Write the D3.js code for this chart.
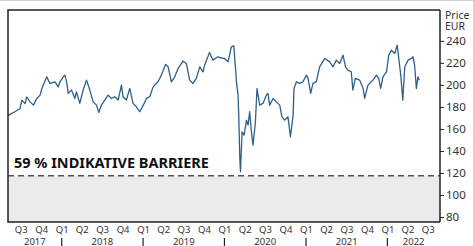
<!DOCTYPE html>
<html>
<head>
<meta charset="utf-8">
<script src="https://cdn.jsdelivr.net/npm/d3@7"></script>
<style>
  body { margin: 0; background: #fff; }
  svg text { font-family: "Noto Sans", sans-serif; fill: #333; }
</style>
</head>
<body>
<svg id="chart" width="473" height="246"></svg>
<script>
var dates = [
  "2017-05-05","2017-05-14","2017-06-05","2017-06-28","2017-07-06","2017-07-21","2017-07-28","2017-08-12",
  "2017-08-27","2017-09-11","2017-09-26","2017-10-04","2017-10-26","2017-11-09","2017-12-02","2017-12-17",
  "2017-12-24","2018-01-08","2018-01-15","2018-01-23","2018-01-30","2018-02-14","2018-03-01","2018-03-08",
  "2018-03-23","2018-04-07","2018-04-22","2018-05-07","2018-05-22","2018-06-06","2018-06-16","2018-06-28",
  "2018-07-13","2018-07-28","2018-08-12","2018-08-27","2018-09-11","2018-09-26","2018-10-03","2018-10-18",
  "2018-11-02","2018-11-17","2018-12-02","2018-12-17","2019-01-02","2019-01-16","2019-01-31","2019-02-15",
  "2019-03-09","2019-03-24","2019-04-12","2019-04-23","2019-05-08","2019-05-23","2019-06-07","2019-06-29",
  "2019-07-14","2019-07-29","2019-08-13","2019-08-28","2019-09-12","2019-09-27","2019-10-04","2019-10-26",
  "2019-11-10","2019-12-02","2019-12-25","2020-01-02","2020-01-17","2020-02-01","2020-02-12","2020-02-24",
  "2020-03-02","2020-03-05","2020-03-10","2020-03-13","2020-03-20","2020-03-29","2020-04-09","2020-04-16",
  "2020-04-23","2020-05-01","2020-05-08","2020-05-19","2020-05-26","2020-06-07","2020-06-22","2020-07-07",
  "2020-07-14","2020-07-22","2020-08-06","2020-08-21","2020-09-05","2020-09-15","2020-09-27","2020-10-12",
  "2020-10-23","2020-11-04","2020-11-08","2020-11-19","2020-12-03","2020-12-18","2021-01-03","2021-01-10",
  "2021-01-22","2021-02-01","2021-02-16","2021-03-03","2021-03-26","2021-04-17","2021-05-02","2021-05-17",
  "2021-06-01","2021-06-16","2021-06-27","2021-07-08","2021-07-23","2021-07-30","2021-08-10","2021-08-30",
  "2021-09-14","2021-09-21","2021-10-06","2021-10-28","2021-11-13","2021-11-23","2021-12-02","2021-12-12",
  "2021-12-28","2022-01-07","2022-01-19","2022-02-03","2022-02-14","2022-02-21","2022-03-02","2022-03-11",
  "2022-03-20","2022-04-04","2022-04-19","2022-04-26","2022-05-03","2022-05-11","2022-05-18","2022-05-24"
];
var prices = [
  172, 173.2, 175.6, 178.6, 186, 183, 189, 184.6,
  181.6, 187.7, 190.7, 196.8, 207.3, 201.3, 202.8, 198.2,
  202.8, 207.3, 208.9, 202.8, 192.3, 195.3, 187.7, 193.7,
  183.2, 195.3, 204.3, 195.3, 184.6, 181.6, 175, 181.6,
  186.2, 190.7, 187.7, 189.2, 186.2, 199.8, 189.2, 186.2,
  196.8, 183.2, 180.1, 175.6, 181.6, 187.7, 189.2, 198.2,
  202.8, 208.9, 218.6, 216.4, 202.8, 207.3, 214.9, 221.6,
  219.5, 204.3, 201.3, 205.9, 216.4, 211.9, 217.9, 229.5,
  222.5, 225.5, 224, 224, 220.9, 234.6, 235.5, 202.8,
  190.7, 174.1, 133.3, 121.1, 157.4, 154.4, 168, 163.5,
  175.6, 157.4, 145.3, 166.5, 196.8, 181.6, 183.2, 190.7,
  192.3, 181.6, 187.7, 184.6, 181.6, 171, 168, 171,
  152.9, 172.6, 196.8, 202.8, 201.3, 202.8, 208.9, 205.9,
  192.3, 201.3, 202.8, 216.4, 224, 220.9, 216.4, 222.5,
  219.5, 227, 216.4, 213.4, 211.9, 195.3, 205.9, 204.3,
  196.8, 187.7, 199.8, 204.3, 208.9, 205.9, 196.8, 207.3,
  211.9, 227, 231.5, 228.5, 236.1, 224, 208.9, 186.2,
  216.4, 222.5, 224, 225.5, 217.9, 196.8, 207.3, 204.3
];
var barrier = 117.6;
var barrierLabel = "59 % INDIKATIVE BARRIERE";
var yTicks = [80, 100, 120, 140, 160, 180, 200, 220, 240];
var years = [2017, 2018, 2019, 2020, 2021, 2022];
var unitLines = ["Price", "EUR"];

var parse = d3.timeParse("%Y-%m-%d");
var data = dates.map(function(d, i) { return { date: parse(d), value: prices[i] }; });

var pLeft = 8, pRight = 440, pTop = 10, pBottom = 222;
var svg = d3.select("#chart");

var x = d3.scaleTime()
  .domain([new Date(2017, 4, 5), new Date(2022, 7, 25)])
  .range([pLeft, pRight]);
var y = d3.scaleLinear()
  .domain([75.5, 268])
  .range([pBottom, pTop]);

// light rule on top of the image
svg.append("line")
  .attr("x1", 0).attr("x2", 473).attr("y1", 0.5).attr("y2", 0.5)
  .attr("stroke", "#d0d0d0").attr("stroke-width", 1);

// grey zone below barrier
svg.append("rect")
  .attr("x", pLeft).attr("y", y(barrier))
  .attr("width", pRight - pLeft).attr("height", pBottom - y(barrier))
  .attr("fill", "#ebebeb");

svg.append("line")
  .attr("x1", pLeft).attr("x2", pRight)
  .attr("y1", y(barrier)).attr("y2", y(barrier))
  .attr("stroke", "#555").attr("stroke-width", 1.5)
  .attr("stroke-dasharray", "6,4");

svg.append("text")
  .attr("x", 14).attr("y", 168)
  .attr("font-size", 14.5).attr("font-weight", "bold")
  .style("fill", "#111")
  .text(barrierLabel);

// price line
var line = d3.line()
  .x(function(d) { return x(d.date); })
  .y(function(d) { return y(d.value); });

svg.append("path")
  .datum(data)
  .attr("fill", "none")
  .attr("stroke", "#2e5f8b")
  .attr("stroke-width", 1.3)
  .attr("stroke-linejoin", "round")
  .attr("d", line);

// frame
svg.append("path")
  .attr("d", "M" + pRight + "," + pTop + "H" + pLeft + "V" + pBottom + "H" + pRight)
  .attr("fill", "none").attr("stroke", "#222").attr("stroke-width", 1.5);

// right axis
var yAxis = svg.append("g")
  .attr("transform", "translate(" + pRight + ",0)")
  .call(d3.axisRight(y).tickValues(yTicks).tickSize(4).tickPadding(2).tickSizeOuter(0));
yAxis.select(".domain").attr("stroke", "#222").attr("stroke-width", 1.5)
  .attr("d", "M0," + pTop + "V" + pBottom);
yAxis.selectAll(".tick line").attr("stroke", "#222");
yAxis.selectAll("text").attr("font-size", 11.5).style("font-family", "Noto Sans").style("fill", "#333");

svg.selectAll(".unit").data(unitLines).enter().append("text")
  .attr("class", "unit")
  .attr("x", 445).attr("y", function(d, i) { return 18.5 + i * 11.5; })
  .attr("font-size", 10.5)
  .text(function(d) { return d; });

// bottom axis: quarters
var quarters = d3.timeMonth.every(3).range(x.domain()[0], x.domain()[1]);
var xAxis = svg.append("g")
  .attr("transform", "translate(0," + pBottom + ")")
  .call(d3.axisBottom(x).tickValues(quarters).tickSize(0).tickPadding(4)
    .tickFormat(function(d) { return "Q" + (Math.floor(d.getMonth() / 3) + 1); }));
xAxis.select(".domain").remove();
xAxis.selectAll("text").attr("font-size", 9.5).style("font-family", "Noto Sans").style("fill", "#333");

// years
var d0 = x.domain()[0], d1 = x.domain()[1];
years.forEach(function(yr) {
  var a = new Date(yr, 0, 1), b = new Date(yr + 1, 0, 1);
  var s = a < d0 ? d0 : a, e = b > d1 ? d1 : b;
  svg.append("text")
    .attr("x", (x(s) + x(e)) / 2).attr("y", 244.5)
    .attr("text-anchor", "middle").attr("font-size", 9.5)
    .text(yr);
  if (a > d0) {
    svg.append("line")
      .attr("x1", x(a)).attr("x2", x(a)).attr("y1", 238).attr("y2", 246)
      .attr("stroke", "#222").attr("stroke-width", 1.2);
  }
});
</script>
</body>
</html>
